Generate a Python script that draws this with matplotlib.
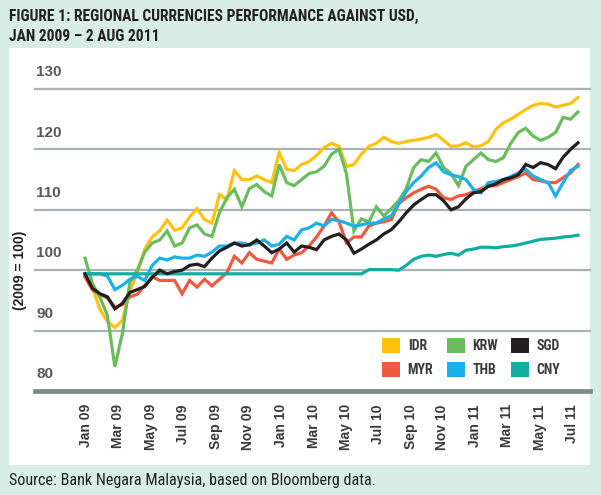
import matplotlib
matplotlib.use("Agg")
import matplotlib.pyplot as plt
from matplotlib.patches import Rectangle, Patch
import pandas as pd

# ---------------- data ----------------
start_date = "2009-01-02"
end_date = "2011-08-02"
n_points = 67

idr = [99.0, 97.2, 93.5, 91.5, 90.5, 91.7, 96.5, 99.5, 103.5, 105.5,
       106.5, 108.3, 106.6, 107.0, 108.8, 110.2, 108.4, 107.8, 112.5, 111.7,
       116.5, 115.0, 115.0, 115.6, 115.0, 114.5, 119.5, 116.7, 116.5, 117.5,
       118.0, 119.0, 120.3, 121.0, 120.5, 117.2, 117.5, 119.2, 120.5, 121.0,
       122.0, 121.3, 121.0, 121.3, 121.5, 121.7, 122.0, 122.5, 121.5, 120.5,
       120.6, 121.1, 120.4, 120.6, 121.3, 123.3, 124.4, 125.0, 125.8, 126.6,
       127.3, 127.6, 127.5, 127.0, 127.3, 127.6, 128.6]
krw = [102.0, 97.8, 95.5, 92.5, 84.0, 89.5, 98.0, 100.0, 103.0, 104.5,
       105.0, 106.5, 104.0, 104.5, 107.0, 107.5, 106.0, 105.6, 109.5, 112.0,
       113.4, 110.5, 113.5, 114.2, 113.0, 112.3, 117.5, 114.5, 114.0, 115.0,
       116.0, 116.3, 117.2, 119.2, 120.0, 116.0, 106.5, 108.5, 108.0, 110.5,
       109.0, 110.2, 111.5, 113.5, 117.0, 118.3, 118.0, 119.4, 117.0, 116.0,
       114.0, 117.2, 118.3, 119.4, 118.3, 118.0, 118.6, 121.0, 122.8, 123.5,
       122.2, 121.5, 122.0, 122.8, 125.3, 125.0, 126.2]
sgd = [99.4, 97.0, 96.1, 95.6, 93.6, 94.5, 96.3, 96.8, 97.3, 98.8,
       100.0, 99.4, 99.8, 100.0, 100.8, 101.0, 100.6, 102.0, 103.2, 103.8,
       104.5, 104.0, 104.2, 105.0, 104.0, 102.9, 103.5, 104.5, 103.0, 104.0,
       103.8, 103.4, 105.0, 105.6, 106.0, 105.0, 102.8, 103.5, 104.3, 105.0,
       106.0, 106.7, 108.0, 109.5, 110.8, 111.7, 112.5, 112.5, 111.5, 110.0,
       110.5, 111.8, 112.8, 113.0, 113.9, 114.3, 115.0, 115.3, 115.8, 117.5,
       117.0, 117.8, 117.5, 116.8, 118.7, 120.0, 121.1]
myr = [98.9, 96.7, 96.0, 95.4, 93.9, 94.3, 95.6, 96.0, 97.5, 98.9,
       98.3, 98.3, 98.3, 96.1, 98.3, 97.2, 98.5, 97.4, 98.5, 99.6,
       102.3, 101.2, 102.9, 101.8, 101.5, 101.2, 103.5, 101.8, 102.5, 102.9,
       104.0, 105.5, 107.3, 109.5, 108.0, 104.5, 105.5, 105.5, 107.3, 107.8,
       108.0, 108.4, 111.0, 112.0, 112.8, 113.4, 113.9, 113.4, 112.0, 111.7,
       112.3, 112.5, 113.0, 113.5, 113.9, 114.0, 114.5, 115.0, 115.5, 116.1,
       115.0, 114.8, 114.5, 114.5, 115.3, 116.1, 117.5]
thb = [99.4, 99.4, 99.4, 99.0, 96.8, 97.5, 98.5, 99.0, 98.3, 100.8,
       102.0, 101.7, 102.2, 102.0, 102.0, 102.5, 102.3, 103.0, 104.0, 104.0,
       104.5, 104.5, 104.2, 104.5, 105.0, 104.0, 104.3, 105.6, 105.0, 106.7,
       107.0, 107.8, 107.3, 108.4, 108.2, 107.8, 107.3, 107.5, 107.8, 107.8,
       108.5, 109.0, 111.0, 113.0, 114.5, 115.6, 117.0, 117.8, 116.3, 115.8,
       115.5, 115.0, 113.4, 112.8, 114.5, 114.7, 115.0, 115.5, 116.1, 116.7,
       115.6, 115.0, 114.5, 112.3, 114.5, 116.5, 117.2]
cny = [99.4, 99.4, 99.4, 99.4, 99.4, 99.4, 99.4, 99.4, 99.4, 99.4,
       99.4, 99.4, 99.4, 99.4, 99.4, 99.4, 99.4, 99.4, 99.4, 99.4,
       99.4, 99.4, 99.4, 99.4, 99.4, 99.4, 99.4, 99.4, 99.4, 99.4,
       99.4, 99.4, 99.4, 99.4, 99.4, 99.4, 99.4, 99.4, 100.1, 100.1,
       100.1, 100.1, 100.0, 100.8, 101.8, 102.3, 102.5, 102.3, 102.6, 102.8,
       102.5, 103.3, 103.5, 103.8, 103.8, 103.7, 103.9, 104.0, 104.2, 104.5,
       104.8, 105.1, 105.2, 105.3, 105.5, 105.6, 105.8]

tick_dates = ["2009-01-04", "2009-03-06", "2009-05-08", "2009-07-09",
              "2009-09-09", "2009-11-10", "2010-01-11", "2010-03-15",
              "2010-05-16", "2010-07-16", "2010-09-16", "2010-11-15",
              "2011-01-18", "2011-03-20", "2011-05-21", "2011-07-22"]
tick_labels = ["Jan 09", "Mar 09", "May 09", "Jul 09", "Sep 09", "Nov 09",
               "Jan 10", "Mar 10", "May 10", "Jul 10", "Sep 10", "Nov 10",
               "Jan 11", "Mar 11", "May 11", "Jul 11"]
y_ticks = [80, 90, 100, 110, 120, 130]

title = "FIGURE 1: REGIONAL CURRENCIES PERFORMANCE AGAINST USD,\nJAN 2009 \u2013 2 AUG 2011"
source = "Source: Bank Negara Malaysia, based on Bloomberg data."
ylabel = "(2009 = 100)"

# ---------------- style ----------------
C = {"IDR": "#FFC20E", "KRW": "#6ABD5C", "SGD": "#231F20",
     "MYR": "#EF5A3E", "THB": "#1CB0E8", "CNY": "#12ADA0"}
BG = "#D7EDE6"
NARROW = ["Roboto Condensed", "Liberation Sans"]
SANS = ["Liberation Sans", "DejaVu Sans"]

W, H = 601, 495
fig = plt.figure(figsize=(W / 100, H / 100), dpi=100, facecolor=BG)

# white panel
fig.patches.append(Rectangle((9 / W, 1 - 465 / H), (590 - 9) / W, (465 - 48) / H,
                             transform=fig.transFigure, facecolor="white",
                             edgecolor="none", zorder=-10))

ax = fig.add_axes([35 / W, 1 - 391 / H, (590 - 35) / W, (391 - 89) / H])
ax.set_zorder(1)
ax.set_facecolor("none")
for s in ax.spines.values():
    s.set_visible(False)

dates = pd.date_range(start_date, end_date, periods=n_points)
d0 = pd.Timestamp(start_date)
d1 = pd.Timestamp(end_date)
span = (d1 - d0) / (578 - 85)  # time per pixel
ax.set_xlim(d0 - span * (85 - 35), d1 + span * (590 - 578))
ax.set_ylim(80, 130)

# grid
for v in y_ticks[1:]:
    ax.axhline(v, color="#A9B3B7", lw=1.6, zorder=1, clip_on=False)
ax.axhline(80, color="#7E878A", lw=3.4, zorder=1, clip_on=False)

series = [("IDR", idr), ("MYR", myr), ("KRW", krw), ("THB", thb),
          ("CNY", cny), ("SGD", sgd)]
for i, (name, vals) in enumerate(series):
    ax.plot(dates, vals, color=C[name], lw=2.3, zorder=3 + i,
            solid_joinstyle="miter")

ax.set_yticks([])
for v in y_ticks:
    ax.annotate(str(v), xy=(0, v), xycoords=("axes fraction", "data"),
                xytext=(1, 7), textcoords="offset points", ha="left",
                va="bottom", fontsize=11, fontweight="bold",
                color="#58595B", family=SANS)

ax.set_xticks(pd.to_datetime(tick_dates))
ax.set_xticklabels(tick_labels, rotation=90, ha="center", va="top",
                   fontsize=10, fontweight="bold", color="#3A3A3C",
                   family=SANS)
ax.tick_params(axis="x", length=0, pad=9.5)

fig.text(20 / W, 1 - 270 / H, ylabel, rotation=90, ha="center", va="center",
         fontsize=10, fontweight="bold", color="#231F20", family=SANS)

fig.text(9 / W, 1 - 9 / H, title, ha="left", va="top", fontsize=11.2,
         fontweight="bold", color="#231F20", family=NARROW, linespacing=1.42)
fig.text(9 / W, 1 - 480 / H, source, ha="left", va="center", fontsize=11.6,
         color="#231F20", family=NARROW)

order = ["IDR", "MYR", "KRW", "THB", "SGD", "CNY"]
handles = [Patch(facecolor=C[k], edgecolor="none", label=k) for k in order]
leg = ax.legend(handles=handles, ncol=3, frameon=False, loc="upper left",
                bbox_to_anchor=(382 / W, 1 - 338 / H),
                bbox_transform=fig.transFigure, borderpad=0, borderaxespad=0,
                handlelength=1.3, handleheight=1.3, handletextpad=0.55,
                columnspacing=0.95, labelspacing=0.6,
                prop={"family": NARROW, "weight": "bold", "size": 10})
for t in leg.get_texts():
    t.set_color("#3A3A3C")

fig.savefig("out.png", dpi=100, facecolor=BG)
